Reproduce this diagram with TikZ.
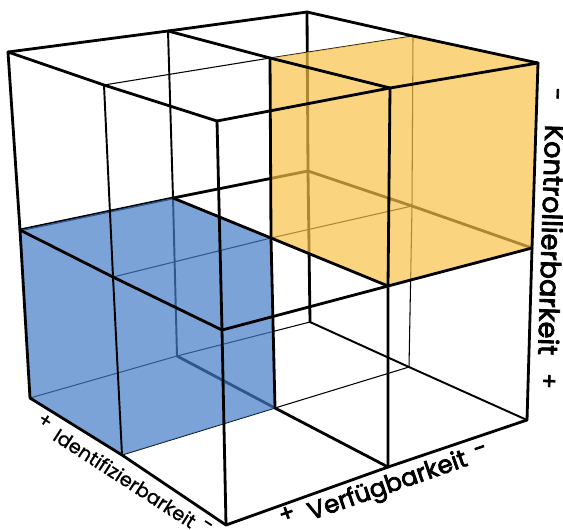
\documentclass[tikz,border=0pt]{standalone}
\usepackage{fontspec}
\setmainfont{Poppins}
\newfontfamily\axisfont{Poppins}[FakeBold=3]
\newfontfamily\axislight{Poppins}[FakeBold=1]
\usepackage{tikz}
\definecolor{blueCell}{RGB}{69,124,199}
\definecolor{orangeCell}{RGB}{248,194,71}

\begin{document}
\begin{tikzpicture}[x=0.02cm,y=-0.02cm]
            \tikzset{thk/.style = {line width=1.6pt, line cap=round, line join=round},
                     mid/.style = {line width=1.1pt, line cap=round},
                     thn/.style = {line width=0.6pt, line cap=round},
                     cell/.style = {fill opacity=0.7, draw=none},
                     axlabel/.style = {font=\axisfont\fontsize{14}{14}\selectfont, inner sep=0pt},
                     axsign/.style = {font=\axisfont\fontsize{13}{13}\selectfont, inner sep=0pt},
                     idsign/.style = {font=\axislight\fontsize{11}{11}\selectfont, inner sep=0pt, rotate=-32.9}}
            \useasboundingbox (0,0) rectangle (563,529);
            % vertices, bottom layer
            \coordinate (p000) at (30,398);
            \coordinate (p100) at (177,356);
            \coordinate (p200) at (310,322);
            \coordinate (p010) at (122,455);
            \coordinate (p110) at (275,408);
            \coordinate (p210) at (409,367);
            \coordinate (p020) at (226,525);
            \coordinate (p120) at (388,467);
            \coordinate (p220) at (527,420);
            % middle layer
            \coordinate (p001) at (20,230);
            \coordinate (p101) at (173,198);
            \coordinate (p201) at (308,171);
            \coordinate (p011) at (113,277);
            \coordinate (p111) at (271,238);
            \coordinate (p211) at (412,206);
            \coordinate (p021) at (222,330);
            \coordinate (p121) at (388,286);
            \coordinate (p221) at (532,248);
            % top layer
            \coordinate (p002) at (8,52);
            \coordinate (p102) at (168,31);
            \coordinate (p202) at (307,12);
            \coordinate (p012) at (104,85);
            \coordinate (p112) at (270,58);
            \coordinate (p212) at (413,36);
            \coordinate (p022) at (217,121);
            \coordinate (p122) at (390,88);
            \coordinate (p222) at (538,63);
            % hidden edges (under the cells)
            \draw[thn] (p000) to (p100) to (p200);
            \draw[thn] (p010) to (p110) to (p210);
            \draw[thn] (p011) to (p111) to (p211);
            \draw[thn] (p012) to (p112) to (p212);
            \draw[thk] (p001) to (p101) to (p201);
            \draw[thk] (p100) to (p110) to (p120);
            \draw[thk] (p201) to (p211) to (p221);
            \draw[mid] (p200) to (p210) to (p220);
            \draw[mid] (p100) to (p101) to (p102);
            \draw[thk] (p200) to (p201) to (p202);
            \draw[thn] (p210) to (p211) to (p212);
            % cells
            \fill[cell, blueCell] (p001) -- (p101) -- (p111) -- (p110) -- (p010) -- (p000) -- cycle;
            \fill[cell, orangeCell] (p112) -- (p212) -- (p222) -- (p221) -- (p121) -- (p111) -- cycle;
            % visible edges
            \draw[thk] (p002) to (p102) to (p202);
            \draw[thk] (p020) to (p120) to (p220);
            \draw[thk] (p021) to (p121) to (p221);
            \draw[thk] (p022) to (p122) to (p222);
            \draw[thk] (p000) to (p010) to (p020);
            \draw[thk] (p001) to (p011) to (p021);
            \draw[thk] (p002) to (p012) to (p022);
            \draw[thk] (p101) to (p111) to (p121);
            \draw[thk] (p102) to (p112) to (p122);
            \draw[thk] (p202) to (p212) to (p222);
            \draw[thk] (p000) to (p001) to (p002);
            \draw[thk] (p110) to (p111) to (p112);
            \draw[thk] (p020) to (p021) to (p022);
            \draw[thk] (p120) to (p121) to (p122);
            \draw[thk] (p220) to (p221) to (p222);
            \draw[mid] (p010) to (p011) to (p012);
            % axis labels
            \node[axlabel, font=\axisfont\fontsize{15.5}{15.5}\selectfont, rotate=-91.8] (klabel) at (552,240) {Kontrollierbarkeit};
            \node[axsign, rotate=-91.8] (kminus) at (554,94) {-};
            \node[axsign, rotate=-91.8] (kplus) at (548,381) {+};
            \node[axlabel, rotate=19.2] (vlabel) at (388,487) {Verfügbarkeit};
            \node[axsign, rotate=19.2] (vplus) at (287,514) {+};
            \node[axsign, rotate=19.2] (vminus) at (481,451) {-};
            \node[idsign, font=\axislight\fontsize{11}{11}\selectfont] (ilabel) at (125,478) {Identifizierbarkeit};
            \node[idsign] (iplus) at (45,421) {+};
            \node[idsign] (iminus) at (207,526) {-};
\end{tikzpicture}
\end{document}
